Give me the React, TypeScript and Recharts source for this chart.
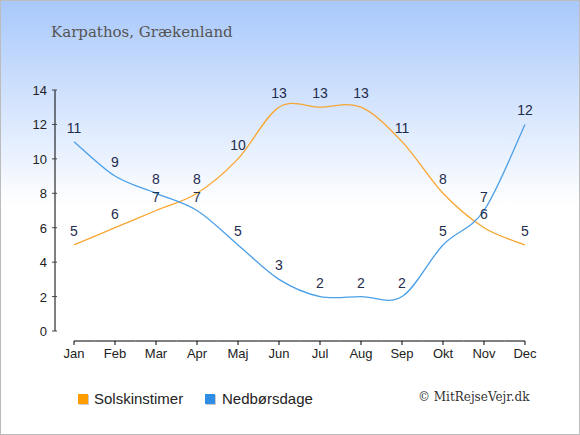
import {Line, LineChart, LabelList, XAxis, YAxis} from "recharts";

const months = ['Jan', 'Feb', 'Mar', 'Apr', 'Maj', 'Jun', 'Jul', 'Aug', 'Sep', 'Okt', 'Nov', 'Dec'];
const sunHours = [5, 6, 7, 8, 10, 13, 13, 13, 11, 8, 6, 5];
const rainDays = [11, 9, 8, 7, 5, 3, 2, 2, 2, 5, 7, 12];
const yTicks = [0, 2, 4, 6, 8, 10, 12, 14];

const data = months.map((m, i) => ({name: m, sol: sunHours[i], regn: rainDays[i]}));

const font = '"Liberation Sans", Arial, sans-serif';
const serif = '"DejaVu Serif", Georgia, serif';
const orange = '#f8a531';
const blue = '#4a9fe8';
const halfStep = 20.5;

// catmull-rom spline, passes through every point and overshoots a little like the original
const spline = (context: any) => {
    let pts: number[][] = [];
    return {
        areaStart() {},
        areaEnd() {},
        lineStart() { pts = []; },
        point(x: number, y: number) { pts.push([+x, +y]); },
        lineEnd() {
            if (!pts.length) return;
            context.moveTo(pts[0][0], pts[0][1]);
            for (let i = 0; i < pts.length - 1; i++) {
                const p0 = pts[i - 1] || pts[i];
                const p1 = pts[i];
                const p2 = pts[i + 1];
                const p3 = pts[i + 2] || p2;
                context.bezierCurveTo(
                    p1[0] + (p2[0] - p0[0]) / 6, p1[1] + (p2[1] - p0[1]) / 6,
                    p2[0] - (p3[0] - p1[0]) / 6, p2[1] - (p3[1] - p1[1]) / 6,
                    p2[0], p2[1]);
            }
        },
    };
};

const MonthTick = (props: any) => {
    const {x, y, payload, index} = props;
    const last = index === months.length - 1;
    return (
        <g>
            <line x1={index === 0 ? x : x - halfStep} x2={last ? x : x + halfStep} y1={y + 10} y2={y + 10}
                  stroke="#000"/>
            <line x1={x} x2={x} y1={y + 10} y2={y + 14} stroke="#000"/>
            <text x={x} y={y + 27} textAnchor="middle" fontSize={13} fontFamily={font} fill="#222">
                {payload.value}
            </text>
        </g>
    );
};

const ValueTick = (props: any) => {
    const {x, y, payload} = props;
    return (
        <g>
            <line x1={x - 3} x2={x + 2} y1={y} y2={y} stroke="#444"/>
            <text x={x - 8} y={y + 5} textAnchor="end" fontSize={13} fontFamily={font} fill="#222">
                {payload.value}
            </text>
        </g>
    );
};

const LegendBox = () => (
    <div style={{
        position: 'absolute', left: 78, top: 390, display: 'flex',
        fontFamily: font, fontSize: 15, color: '#222'
    }}>
        <span style={{display: 'flex', alignItems: 'center', width: 127}}>
            <span style={{width: 10, height: 10, background: '#ff9c00', boxShadow: '1px 1px 0 #ccc', marginRight: 6}}/>
            Solskinstimer
        </span>
        <span style={{display: 'flex', alignItems: 'center'}}>
            <span style={{width: 10, height: 10, background: '#2e8ee6', boxShadow: '1px 1px 0 #ccc', marginRight: 7}}/>
            Nedbørsdage
        </span>
    </div>
);

export default function App() {
    return (
        <div style={{
            position: 'absolute', left: 0, top: 0, width: 580, height: 435,
            background: 'linear-gradient(to bottom, #a8c8fb 0px, #ffffff 205px, #ffffff 435px)'
        }}>
            <div style={{position: 'absolute', left: 51, top: 23, fontFamily: serif, fontSize: 15, color: '#555'}}>
                Karpathos, Grækenland
            </div>
            <LineChart width={580} height={435} data={data} margin={{top: 90, right: 55, bottom: 74, left: 0}}>
                <XAxis dataKey="name" padding={{left: 19, right: 0}} axisLine={false} tickLine={false}
                       tickSize={0} tickMargin={0} height={30} tick={<MonthTick/>} interval={0}/>
                <YAxis width={55} domain={[0, 14]} ticks={yTicks} interval={0} tickSize={0} tickMargin={0}
                       axisLine={{stroke: '#000'}} tickLine={false} tick={<ValueTick/>}/>
                <Line dataKey="sol" name="Solskinstimer" type={spline as any} stroke={orange} strokeWidth={1.3}
                      dot={false} isAnimationActive={false}>
                    <LabelList dataKey="sol" position="top" offset={9} fontSize={14} fontFamily={font}
                               fill="#1f2c4c"/>
                </Line>
                <Line dataKey="regn" name="Nedbørsdage" type={spline as any} stroke={blue} strokeWidth={1.3}
                      dot={false} isAnimationActive={false}>
                    <LabelList dataKey="regn" position="top" offset={9} fontSize={14} fontFamily={font}
                               fill="#1f2c4c"/>
                </Line>
            </LineChart>
            <LegendBox/>
            <div style={{position: 'absolute', left: 418, top: 390, fontFamily: serif, fontSize: 12, color: '#333'}}>
                © MitRejseVejr.dk
            </div>
            <div style={{
                position: 'absolute', left: 0, top: 0, width: 578, height: 433,
                border: '1px solid #bcbcbc', pointerEvents: 'none'
            }}/>
        </div>
    );
}
